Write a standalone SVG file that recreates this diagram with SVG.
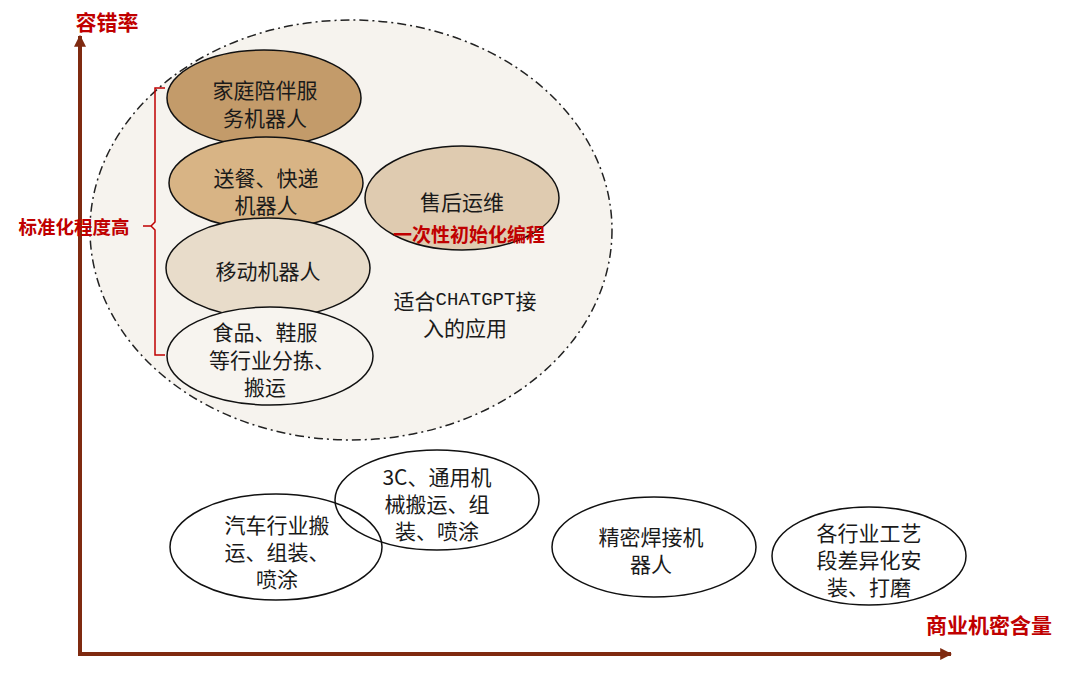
<svg xmlns="http://www.w3.org/2000/svg" width="1080" height="676" viewBox="0 0 1080 676">
<defs>
<marker id="ah" viewBox="0 0 10 10" refX="9" refY="5" markerWidth="3" markerHeight="3" orient="auto" markerUnits="strokeWidth">
<path d="M0,0 L10,5 L0,10 z" fill="#7f2a10"/>
</marker>
<style>
.t{font-family:"Noto Sans CJK SC","Noto Sans",sans-serif;font-size:21px;fill:#1a1a1a;text-anchor:middle;dominant-baseline:central}
.red{font-family:"Noto Sans CJK SC","Noto Sans",sans-serif;fill:#c00000;font-weight:bold;text-anchor:middle;dominant-baseline:central}
.e{stroke:#111;stroke-width:1.5}
.axis{stroke:#7f2a10;stroke-width:4;fill:none}
.br{stroke:#c00000;stroke-width:1.5;fill:none}
</style>
</defs>
<rect width="1080" height="676" fill="#ffffff"/>

<g id="region">
<ellipse cx="351" cy="230" rx="261" ry="210" fill="#f6f3ee" stroke="#222" stroke-width="1.5" stroke-dasharray="9 4 2 4"/>
<text class="t"><tspan x="465" y="300">适合<tspan font-family="Liberation Mono" font-size="19">CHATGPT</tspan>接</tspan><tspan x="465" y="327">入的应用</tspan></text>
</g>

<g id="connectors">
<line class="axis" x1="80" y1="656" x2="80" y2="36" marker-end="url(#ah)"/>
<line class="axis" x1="78" y1="654" x2="951" y2="654" marker-end="url(#ah)"/>
<path class="br" d="M165,88 H155 V222 L151,226 H143 M151,226 L155,230 V355 H165"/>
</g>

<g id="axis-y-label"><text class="red" x="107" y="21" font-size="21">容错率</text></g>
<g id="axis-x-label"><text class="red" x="989" y="624" font-size="21">商业机密含量</text></g>
<g id="bracket-label"><text class="red" x="74" y="226" font-size="18.5">标准化程度高</text></g>

<g id="n-family">
<ellipse class="e" cx="264" cy="98" rx="97" ry="48" fill="#c39b6a"/>
<text class="t"><tspan x="265" y="89">家庭陪伴服</tspan><tspan x="265" y="117">务机器人</tspan></text>
</g>
<g id="n-delivery">
<ellipse class="e" cx="266" cy="183" rx="97" ry="46" fill="#d8b485"/>
<text class="t"><tspan x="266" y="177">送餐、快递</tspan><tspan x="266" y="204">机器人</tspan></text>
</g>
<g id="n-mobile">
<ellipse class="e" cx="268" cy="268" rx="102" ry="50" fill="#e8dcca"/>
<text class="t" x="268" y="270">移动机器人</text>
</g>
<g id="n-sorting">
<ellipse class="e" cx="270" cy="356" rx="103" ry="49" fill="#f7f4ef"/>
<text class="t"><tspan x="265" y="331">食品、鞋服</tspan><tspan x="272" y="359">等行业分拣、</tspan><tspan x="265" y="386">搬运</tspan></text>
</g>
<g id="n-aftersales">
<ellipse class="e" cx="462" cy="198" rx="97" ry="52" fill="#dfcbb0"/>
<text class="t" x="462" y="201">售后运维</text>
<text class="red" x="469" y="233" font-size="19">一次性初始化编程</text>
</g>

<g id="n-auto">
<ellipse class="e" cx="276" cy="547" rx="106" ry="53" fill="none"/>
<text class="t"><tspan x="277" y="524">汽车行业搬</tspan><tspan x="277" y="551">运、组装、</tspan><tspan x="277" y="578">喷涂</tspan></text>
</g>
<g id="n-3c">
<ellipse class="e" cx="437" cy="500" rx="102" ry="50" fill="none"/>
<text class="t"><tspan x="437" y="476">3C、通用机</tspan><tspan x="437" y="503">械搬运、组</tspan><tspan x="437" y="530">装、喷涂</tspan></text>
</g>
<g id="n-welding">
<ellipse class="e" cx="654" cy="547" rx="102" ry="50" fill="none"/>
<text class="t"><tspan x="651" y="536">精密焊接机</tspan><tspan x="651" y="563">器人</tspan></text>
</g>
<g id="n-install">
<ellipse class="e" cx="869" cy="556" rx="97" ry="49" fill="none"/>
<text class="t"><tspan x="869" y="532">各行业工艺</tspan><tspan x="869" y="559">段差异化安</tspan><tspan x="869" y="586">装、打磨</tspan></text>
</g>
</svg>
